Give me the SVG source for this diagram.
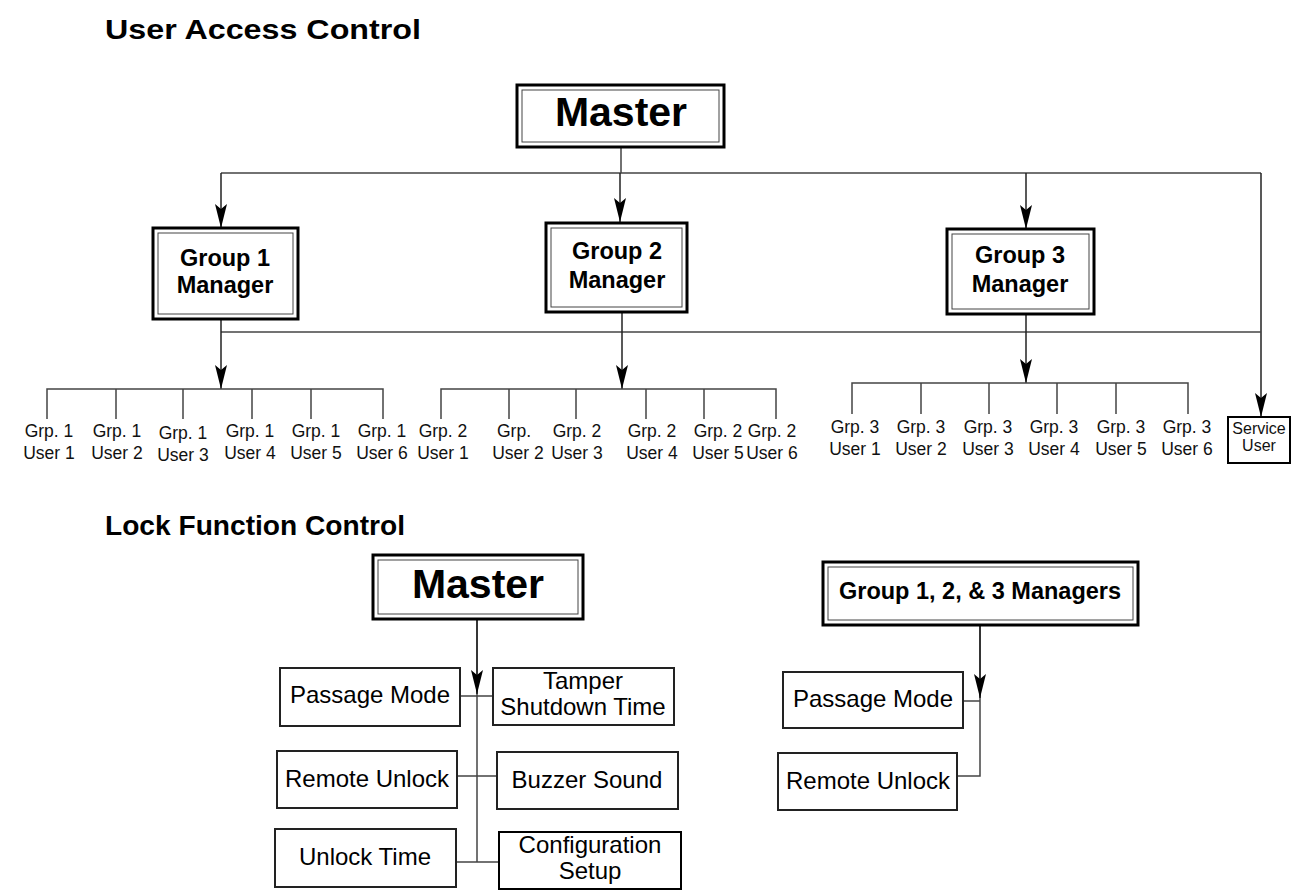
<svg xmlns="http://www.w3.org/2000/svg" width="1306" height="891" viewBox="0 0 1306 891">
  <style>
    .title { font-family: "Liberation Sans", Arial, sans-serif; font-weight: bold; font-size: 27px; fill: #000; }
    .master { font-family: "Liberation Sans", Arial, sans-serif; font-weight: bold; font-size: 41px; fill: #000; text-anchor: middle; }
    .mgr { font-family: "Liberation Sans", Arial, sans-serif; font-weight: bold; font-size: 23.5px; fill: #000; text-anchor: middle; }
    .user { font-family: "Liberation Sans", Arial, sans-serif; font-size: 17.5px; fill: #111; text-anchor: middle; }
    .svc { font-family: "Liberation Sans", Arial, sans-serif; font-size: 16px; fill: #111; text-anchor: middle; }
    .fn { font-family: "Liberation Sans", Arial, sans-serif; font-size: 24px; fill: #000; text-anchor: middle; }
    .outer { fill: #fff; stroke: #000; stroke-width: 3; }
    .inner { fill: none; stroke: #444; stroke-width: 1; }
    .box { fill: #fff; stroke: #222; stroke-width: 2; }
    .wire { fill: none; stroke: #444; stroke-width: 1.5; }
    .arrow { fill: none; stroke: #222; stroke-width: 1.5; marker-end: url(#head); }
  </style>
  <defs>
    <marker id="head" markerUnits="userSpaceOnUse" markerWidth="24" markerHeight="12" viewBox="0 0 24 12" refX="24" refY="6" orient="auto">
      <path d="M0,0 L24,6 L0,12 L5,6 Z" fill="#000"/>
    </marker>
  </defs>

  <!-- section titles -->
  <text class="title" x="105" y="39" textLength="316" lengthAdjust="spacingAndGlyphs">User Access Control</text>
  <text class="title" x="105" y="535" textLength="300" lengthAdjust="spacingAndGlyphs">Lock Function Control</text>

  <!-- connectors -->
  <g id="connectors">
    <!-- master to group managers and service user -->
    <path class="wire" d="M621,147 V173 M221,173 H1261"/>
    <path class="arrow" d="M221,173 V228"/>
    <path class="arrow" d="M620,173 V222"/>
    <path class="arrow" d="M1026,173 V229"/>
    <path class="arrow" d="M1261,173 V417"/>
    <!-- managers to service user -->
    <path class="wire" d="M221,332 H1261"/>
    <!-- managers to their users -->
    <path class="arrow" d="M221,319 V389"/>
    <path class="arrow" d="M622,312 V389"/>
    <path class="arrow" d="M1026,314 V383"/>
    <!-- user brackets -->
    <path class="wire" d="M47,419 V389 H383 V419 M116,389 V419 M183,389 V419 M252,389 V419 M311,389 V419"/>
    <path class="wire" d="M441,419 V389 H776 V419 M509,389 V419 M576,389 V419 M646,389 V419 M704,389 V419"/>
    <path class="wire" d="M852,414 V383 H1188 V414 M921,383 V414 M989,383 V414 M1057,383 V414 M1116,383 V414"/>

    <!-- lock functions: master -->
    <path class="wire" d="M477,619 V862"/>
    <path class="arrow" d="M477,619 V694"/>
    <path class="wire" d="M460,696 H493 M457,776 H497 M456,862 H499"/>
    <!-- lock functions: group managers -->
    <path class="wire" d="M980,625 V776 H957 M963,701 H980"/>
    <path class="arrow" d="M980,625 V698"/>
  </g>

  <!-- user access nodes -->
  <g id="master-top">
    <rect class="outer" x="517" y="85" width="207" height="62"/>
    <rect class="inner" x="522" y="90" width="197" height="52"/>
    <text class="master" x="621" y="126">Master</text>
  </g>
  <g id="group1-manager">
    <rect class="outer" x="153" y="228" width="145" height="91"/>
    <rect class="inner" x="158" y="233" width="135" height="81"/>
    <text class="mgr" x="225" y="266">Group 1</text>
    <text class="mgr" x="225" y="293">Manager</text>
  </g>
  <g id="group2-manager">
    <rect class="outer" x="546" y="223" width="141" height="89"/>
    <rect class="inner" x="551" y="228" width="131" height="79"/>
    <text class="mgr" x="617" y="259">Group 2</text>
    <text class="mgr" x="617" y="288">Manager</text>
  </g>
  <g id="group3-manager">
    <rect class="outer" x="947" y="229" width="147" height="85"/>
    <rect class="inner" x="952" y="234" width="137" height="75"/>
    <text class="mgr" x="1020" y="263">Group 3</text>
    <text class="mgr" x="1020" y="292">Manager</text>
  </g>

  <g id="group1-users">
    <text class="user" x="49" y="437">Grp. 1</text><text class="user" x="49" y="459">User 1</text>
    <text class="user" x="117" y="437">Grp. 1</text><text class="user" x="117" y="459">User 2</text>
    <text class="user" x="183" y="439">Grp. 1</text><text class="user" x="183" y="461">User 3</text>
    <text class="user" x="250" y="437">Grp. 1</text><text class="user" x="250" y="459">User 4</text>
    <text class="user" x="316" y="437">Grp. 1</text><text class="user" x="316" y="459">User 5</text>
    <text class="user" x="382" y="437">Grp. 1</text><text class="user" x="382" y="459">User 6</text>
  </g>
  <g id="group2-users">
    <text class="user" x="443" y="437">Grp. 2</text><text class="user" x="443" y="459">User 1</text>
    <text class="user" x="514" y="437">Grp.</text><text class="user" x="518" y="459">User 2</text>
    <text class="user" x="577" y="437">Grp. 2</text><text class="user" x="577" y="459">User 3</text>
    <text class="user" x="652" y="437">Grp. 2</text><text class="user" x="652" y="459">User 4</text>
    <text class="user" x="718" y="437">Grp. 2</text><text class="user" x="718" y="459">User 5</text>
    <text class="user" x="772" y="437">Grp. 2</text><text class="user" x="772" y="459">User 6</text>
  </g>
  <g id="group3-users">
    <text class="user" x="855" y="433">Grp. 3</text><text class="user" x="855" y="455">User 1</text>
    <text class="user" x="921" y="433">Grp. 3</text><text class="user" x="921" y="455">User 2</text>
    <text class="user" x="988" y="433">Grp. 3</text><text class="user" x="988" y="455">User 3</text>
    <text class="user" x="1054" y="433">Grp. 3</text><text class="user" x="1054" y="455">User 4</text>
    <text class="user" x="1121" y="433">Grp. 3</text><text class="user" x="1121" y="455">User 5</text>
    <text class="user" x="1187" y="433">Grp. 3</text><text class="user" x="1187" y="455">User 6</text>
  </g>
  <g id="service-user">
    <rect x="1228" y="417" width="62" height="46" fill="#fff" stroke="#000" stroke-width="2"/>
    <text class="svc" x="1259" y="434">Service</text>
    <text class="svc" x="1259" y="451">User</text>
  </g>

  <!-- lock function nodes -->
  <g id="master-lock">
    <rect class="outer" x="373" y="555" width="210" height="64"/>
    <rect class="inner" x="378" y="560" width="200" height="54"/>
    <text class="master" x="478" y="598">Master</text>
  </g>
  <g id="passage-mode">
    <rect class="box" x="280" y="668" width="180" height="58"/>
    <text class="fn" x="370" y="703">Passage Mode</text>
  </g>
  <g id="tamper-shutdown">
    <rect class="box" x="493" y="668" width="181" height="57"/>
    <text class="fn" x="583" y="689" font-size="22.5">Tamper</text>
    <text class="fn" x="583" y="715" font-size="22.5">Shutdown Time</text>
  </g>
  <g id="remote-unlock">
    <rect class="box" x="277" y="751" width="180" height="57"/>
    <text class="fn" x="367" y="787">Remote Unlock</text>
  </g>
  <g id="buzzer-sound">
    <rect class="box" x="497" y="752" width="181" height="57"/>
    <text class="fn" x="587" y="788">Buzzer Sound</text>
  </g>
  <g id="unlock-time">
    <rect class="box" x="275" y="829" width="181" height="58"/>
    <text class="fn" x="365" y="865">Unlock Time</text>
  </g>
  <g id="configuration-setup">
    <rect x="499" y="832" width="182" height="57" fill="#fff" stroke="#000" stroke-width="2"/>
    <text class="fn" x="590" y="853">Configuration</text>
    <text class="fn" x="590" y="879">Setup</text>
  </g>

  <g id="managers-lock">
    <rect class="outer" x="823" y="562" width="315" height="63"/>
    <rect class="inner" x="828" y="567" width="305" height="53"/>
    <text class="mgr" x="980" y="599">Group 1, 2, &amp; 3 Managers</text>
  </g>
  <g id="passage-mode-mgr">
    <rect class="box" x="783" y="672" width="180" height="56"/>
    <text class="fn" x="873" y="707">Passage Mode</text>
  </g>
  <g id="remote-unlock-mgr">
    <rect class="box" x="778" y="753" width="179" height="57"/>
    <text class="fn" x="868" y="789">Remote Unlock</text>
  </g>
</svg>
